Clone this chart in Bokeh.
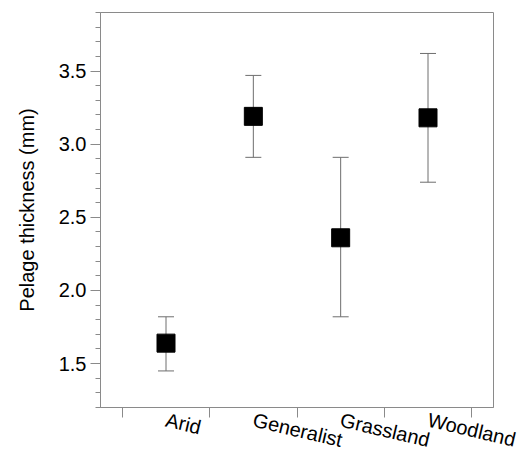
from bokeh.plotting import figure
from bokeh.models import (ColumnDataSource, FixedTicker, Whisker, TeeHead, Range1d,
                          PrintfTickFormatter)
from bokeh.embed import file_html
from bokeh.resources import INLINE

categories = ["Arid", "Generalist", "Grassland", "Woodland"]
means = [1.64, 3.19, 2.36, 3.18]
lower = [1.45, 2.91, 1.82, 2.74]
upper = [1.82, 3.47, 2.91, 3.62]
y_ticks = [1.5, 2.0, 2.5, 3.0, 3.5]

xs = list(range(1, len(categories) + 1))
src = ColumnDataSource(dict(x=xs, mean=means, lower=lower, upper=upper))

FONT = "Liberation Sans"
AX = "#8a8a8a"
Y0, Y1 = 1.2, 3.9

p = figure(width=520, height=464, output_backend="svg", toolbar_location=None,
           x_range=Range1d(0.25, 4.75), y_range=Range1d(Y0, Y1),
           min_border_left=100, min_border_right=27, min_border_top=12, min_border_bottom=55)
p.grid.visible = False
p.outline_line_color = AX
p.outline_line_width = 1
p.background_fill_color = "white"
p.border_fill_color = "white"

w = Whisker(base="x", upper="upper", lower="lower", source=src,
            line_color="#6e6e6e", line_width=1,
            upper_head=TeeHead(size=16, line_color="#6e6e6e", line_width=1),
            lower_head=TeeHead(size=16, line_color="#6e6e6e", line_width=1))
p.add_layout(w)
p.scatter("x", "mean", source=src, marker="square", size=18,
          fill_color="black", line_color="black")

# y axis
ya = p.yaxis[0]
minor = [round(Y0 + 0.1 * i, 1) for i in range(28) if round(Y0 + 0.1 * i, 1) not in y_ticks]
ya.ticker = FixedTicker(ticks=y_ticks, minor_ticks=minor)
ya.formatter = PrintfTickFormatter(format="%.1f")
ya.axis_line_color = AX
ya.major_tick_line_color = AX
ya.minor_tick_line_color = AX
ya.major_tick_out = 10
ya.major_tick_in = 0
ya.minor_tick_out = 5
ya.minor_tick_in = 0
ya.major_label_text_font = FONT
ya.major_label_text_font_size = "20px"
ya.major_label_text_color = "black"
ya.major_label_standoff = 4
ya.axis_label = "Pelage thickness (mm)"
ya.axis_label_text_font = FONT
ya.axis_label_text_font_size = "20px"
ya.axis_label_text_font_style = "normal"
ya.axis_label_text_color = "black"
ya.axis_label_standoff = 18

# x axis: ticks at category boundaries, slanted labels at category centres
xa = p.xaxis[0]
xa.ticker = FixedTicker(ticks=xs, minor_ticks=[x + 0.5 for x in [0] + xs])
xa.major_label_overrides = {x: c for x, c in zip(xs, categories)}
xa.axis_line_color = AX
xa.major_tick_line_color = None
xa.major_tick_out = 0
xa.major_tick_in = 0
xa.minor_tick_line_color = AX
xa.minor_tick_out = 0
xa.minor_tick_in = -10
xa.major_label_orientation = -0.23
xa.major_label_text_font = FONT
xa.major_label_text_font_size = "20px"
xa.major_label_text_color = "black"
xa.major_label_standoff = 12

open("out.html", "w").write(file_html(p, INLINE))
